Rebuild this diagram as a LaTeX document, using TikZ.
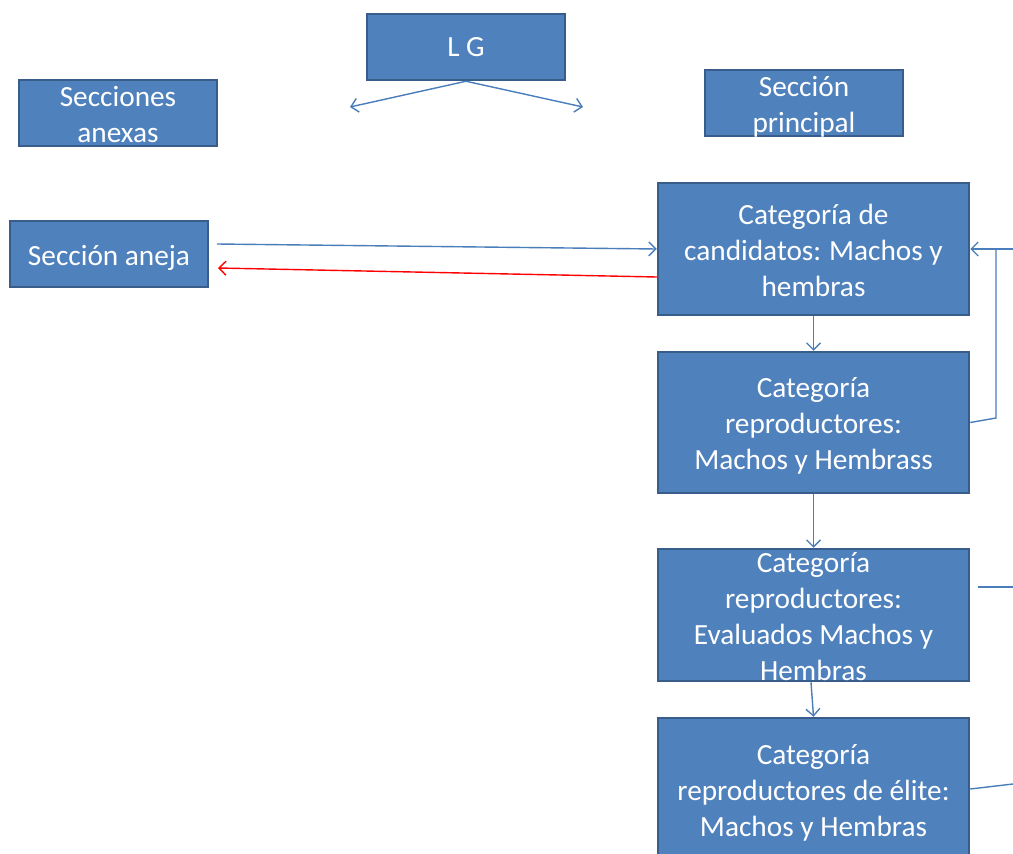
\documentclass[tikz,border=0pt]{standalone}
\usepackage{fontspec}
\setmainfont{Carlito}
\usetikzlibrary{arrows.meta}
\definecolor{boxfill}{HTML}{4F81BD}
\definecolor{boxborder}{HTML}{385D8A}
\definecolor{linecol}{HTML}{4A7EBB}
\begin{document}
\begin{tikzpicture}[x=1pt,y=-1pt,
  box/.style={draw=boxborder, line width=2.5pt, fill=boxfill, inner sep=0pt},
  txt/.style={text=white, inner sep=0pt, align=center, font=\fontsize{29.3}{36}\selectfont},
  smallbox/.style={box, minimum width=198pt, minimum height=66pt},
  catbox/.style={box, minimum width=311pt},
  conn/.style={draw=linecol, line width=1.4pt},
  redconn/.style={draw=red, line width=1.4pt},
  tip/.style={-{Straight Barb[length=7pt,width=14pt]}}
]
\useasboundingbox (0,0) rectangle (1013,854);
\clip (0,0) rectangle (1013,854);
\fill[white] (0,0) rectangle (1013,854);

\node[smallbox, label={[txt]center:{L G}}] (lg) at (466,47) {};
\node[smallbox, label={[txt,yshift=-1.5pt]center:{Secciones\\anexas}}] (anexas) at (118,113) {};
\node[smallbox, label={[txt,yshift=-4pt]center:{Sección\\principal}}] (principal) at (804,103) {};
\node[smallbox, label={[txt,yshift=-4pt]center:{Sección aneja}}] (aneja) at (109,254) {};
\node[catbox, minimum height=132pt, label={[txt,yshift=-1pt]center:{Categoría de\\candidatos:\kern-1pt{} Machos y\\hembras}}] (c1) at (813.5,249) {};
\node[catbox, minimum height=141pt, label={[txt,yshift=-3pt]center:{Categoría\\reproductores:\\Machos y Hembrass}}] (c2) at (813.5,422.5) {};
\node[catbox, minimum height=132pt, label={[txt,yshift=-2pt]center:{Categoría\\reproductores:\\Evaluados Machos y\\Hembras}}] (c3) at (813.5,615) {};
\node[catbox, minimum height=146pt, label={[txt,yshift=-2pt]center:{Categoría\\reproductores de élite:\\Machos y Hembras}}] (c4) at (813.5,791) {};

\coordinate (lgL) at (350,107);
\coordinate (lgR) at (583,107);
\coordinate (a1) at (217,244);
\coordinate (r2) at (218,268);
\coordinate (rin) at (1013,249);
\coordinate (loop) at (996,418);
\coordinate (loopt) at (996,249);
\coordinate (c3a) at (978,587);
\coordinate (c3b) at (1013,587);
\coordinate (c4b) at (1013,784);

\draw[conn,tip] (lg.south) -- (lgL);
\draw[conn,tip] (lg.south) -- (lgR);
\draw[conn,tip] (a1) -- (c1.west);
\draw[redconn,tip] ([yshift=-28pt]c1.west) -- (r2);
\draw[conn,tip] (c1.south) -- (c2.north);
\draw[conn,tip] (c2.south) -- (c3.north);
\draw[conn,tip] ([xshift=-2.5pt]c3.south) -- (c4.north);
\draw[conn,tip] (rin) -- (c1.east);
\draw[conn] (c2.east) -- (loop) -- (loopt);
\draw[conn] (c3a) -- (c3b);
\draw[conn] ([yshift=2pt]c4.east) -- (c4b);
\end{tikzpicture}
\end{document}
